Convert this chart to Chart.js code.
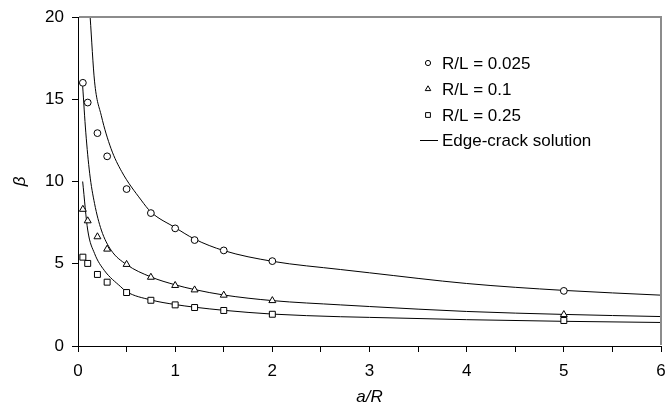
<!DOCTYPE html>
<html>
<head>
<meta charset="utf-8">
<script src="https://cdn.jsdelivr.net/npm/chart.js@4.4.1/dist/chart.umd.min.js"></script>
<style>
  html, body { margin: 0; padding: 0; background: #fff; }
  #wrap { width: 665px; height: 405px; position: relative; }
</style>
</head>
<body>
<div id="wrap"><canvas id="chart"></canvas></div>
<script>
// measured points (a/R vs beta)
const xMarks = [0.05, 0.1, 0.2, 0.3, 0.5, 0.75, 1, 1.2, 1.5, 2, 5];
const betaRL0025 = [16.0, 14.8, 12.94, 11.53, 9.54, 8.08, 7.15, 6.44, 5.81, 5.16, 3.35];
const betaRL01 = [8.31, 7.61, 6.64, 5.89, 4.96, 4.18, 3.68, 3.41, 3.09, 2.76, 1.91];
const betaRL025 = [5.40, 5.02, 4.35, 3.88, 3.25, 2.78, 2.50, 2.34, 2.16, 1.93, 1.55];

// edge-crack solution curves
const edgeX1 = [0.125, 0.17, 0.24, 0.34, 0.45, 0.65, 0.75, 1, 1.2, 1.5, 2, 2.7, 3, 4, 5, 6];
const edgeY1 = [20, 16.1, 14.0, 12.0, 10.6, 8.87, 8.15, 7.2, 6.5, 5.8, 5.15, 4.65, 4.45, 3.8, 3.38, 3.09];
const edgeX2 = [0.048, 0.08, 0.12, 0.17, 0.24, 0.34, 0.5, 0.75, 1, 1.2, 1.5, 2, 2.7, 3, 4, 5, 6];
const edgeY2 = [15.8, 13.0, 10.5, 8.67, 7.05, 5.83, 4.95, 4.2, 3.72, 3.43, 3.1, 2.76, 2.5, 2.4, 2.1, 1.92, 1.79];
const edgeX3 = [0.048, 0.1, 0.17, 0.27, 0.44, 0.5, 0.75, 1, 1.2, 1.5, 2, 2.7, 3, 4, 5, 6];
const edgeY3 = [10.0, 7.05, 5.63, 4.6, 3.6, 3.3, 2.8, 2.52, 2.36, 2.17, 1.94, 1.78, 1.74, 1.6, 1.5, 1.43];

const legendLabels = ['R/L = 0.025', 'R/L = 0.1', 'R/L = 0.25', 'Edge-crack solution'];

function pts(xs, ys) {
  return xs.map((x, i) => ({ x: x, y: ys[i] }));
}

const FONT = "'Liberation Sans', Arial, sans-serif";
const FRAME = '#8c8c8c';

function markerSet(data, style, r) {
  return {
    data: data,
    showLine: false,
    pointStyle: style,
    pointRadius: r,
    pointBorderWidth: 1,
    pointBorderColor: '#000',
    pointBackgroundColor: '#fff',
    order: 1
  };
}

function curveSet(data) {
  return {
    data: data,
    showLine: true,
    pointRadius: 0,
    borderColor: '#000',
    borderWidth: 1,
    cubicInterpolationMode: 'monotone',
    order: 2
  };
}

// gray frame on top/right, legend inside the plot
const overlayPlugin = {
  id: 'innerLegend',
  afterDraw(chart) {
    const ctx = chart.ctx;
    const a = chart.chartArea;
    ctx.save();
    ctx.strokeStyle = FRAME;
    ctx.lineWidth = 2;
    ctx.beginPath();
    ctx.moveTo(a.left + 1, a.top);
    ctx.lineTo(a.right, a.top);
    ctx.lineTo(a.right, a.bottom - 1);
    ctx.stroke();
    ctx.restore();

    const mx = 428, tx = 442, rows = [63, 89, 115, 140];
    ctx.save();
    ctx.font = '17px ' + FONT;
    ctx.textBaseline = 'middle';
    ctx.strokeStyle = '#000';
    ctx.lineWidth = 1;
    const styles = ['circle', 'triangle', 'rect'];
    const radii = [2.6, 3.2, 3.4];
    styles.forEach((s, i) => {
      ctx.fillStyle = '#fff';
      Chart.helpers.drawPoint(ctx, { pointStyle: s, radius: radii[i], borderWidth: 1 }, mx, rows[i]);
    });
    ctx.beginPath();
    ctx.moveTo(420, rows[3] + 0.5);
    ctx.lineTo(438, rows[3] + 0.5);
    ctx.stroke();
    ctx.fillStyle = '#000';
    legendLabels.forEach((t, i) => ctx.fillText(t, tx, rows[i] + 1));
    ctx.restore();
  }
};

new Chart(document.getElementById('chart'), {
  type: 'scatter',
  data: {
    datasets: [
      curveSet(pts(edgeX1, edgeY1)),
      curveSet(pts(edgeX2, edgeY2)),
      curveSet(pts(edgeX3, edgeY3)),
      markerSet(pts(xMarks, betaRL0025), 'circle', 3.4),
      markerSet(pts(xMarks, betaRL01), 'triangle', 4),
      markerSet(pts(xMarks, betaRL025), 'rect', 4.2)
    ]
  },
  options: {
    responsive: true,
    maintainAspectRatio: false,
    animation: false,
    layout: { autoPadding: false, padding: { top: 17, right: 4, left: 0, bottom: 0 } },
    plugins: { legend: { display: false }, tooltip: { enabled: false } },
    scales: {
      x: {
        type: 'linear',
        min: 0, max: 6,
        border: { color: '#000', width: 1 },
        grid: { drawOnChartArea: false, drawTicks: true, tickLength: 6, color: '#000' },
        ticks: {
          stepSize: 0.5,
          padding: 9,
          color: '#000',
          font: { family: FONT, size: 17 },
          maxRotation: 0,
          autoSkip: false,
          callback: v => (Number.isInteger(v) ? String(v) : '')
        },
        title: { display: true, text: 'a/R', color: '#000', font: { family: FONT, size: 17, style: 'italic' }, padding: { top: 0, bottom: -2 } },
        afterFit(scale) {
          scale.height = 59;
          scale.paddingLeft = 0;
          scale.paddingRight = 0;
        }
      },
      y: {
        type: 'linear',
        min: 0, max: 20,
        border: { color: '#000', width: 1 },
        grid: { drawOnChartArea: false, drawTicks: true, tickLength: 6, color: '#000' },
        ticks: { stepSize: 5, padding: 8, color: '#000', font: { family: FONT, size: 17 } },
        title: { display: true, text: 'β', color: '#000', font: { family: FONT, size: 17, style: 'italic' }, padding: { top: 10, bottom: 0 } },
        afterFit(scale) {
          scale.width = 78;
          scale.paddingTop = 0;
          scale.paddingBottom = 0;
        }
      }
    }
  },
  plugins: [overlayPlugin]
});
</script>
</body>
</html>
